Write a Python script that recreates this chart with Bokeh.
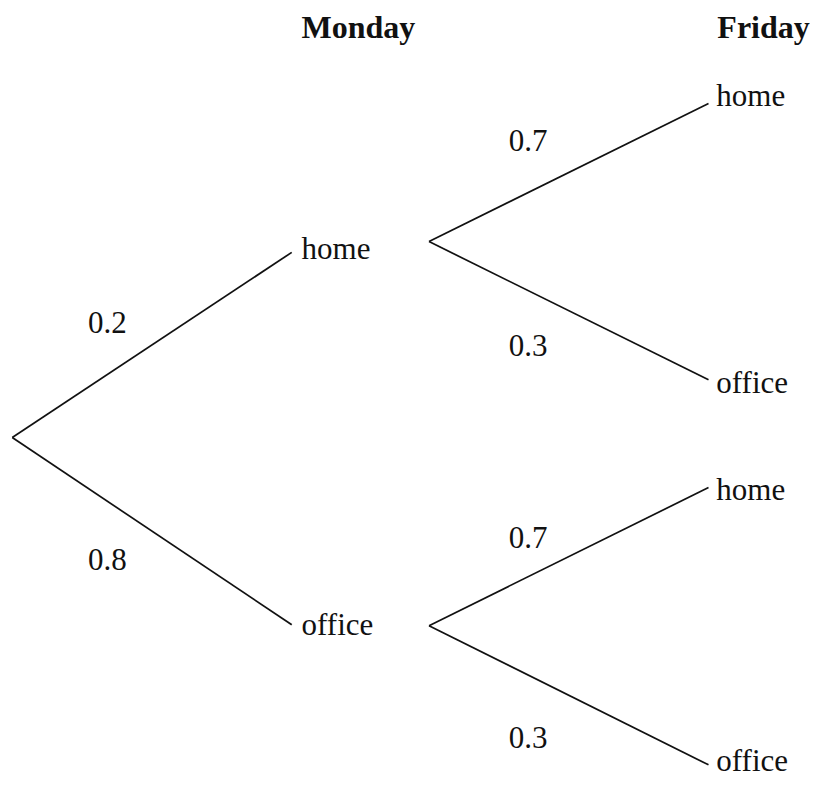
from bokeh.plotting import figure
from bokeh.models import Range1d
from bokeh.core.properties import value
from bokeh.embed import file_html
from bokeh.resources import INLINE

# ---------------- data ----------------
stages = ["Monday", "Friday"]
monday_outcomes = ["home", "office"]
monday_probs = ["0.2", "0.8"]
friday_outcomes = ["home", "office"]
friday_probs = [["0.7", "0.3"],   # given Monday = home
                ["0.7", "0.3"]]   # given Monday = office

# ---------------- layout (diagram units) ----------------
ROOT = (12, 446)
S1_END_X = 297
S1_END_Y = [257, 637]
S1_LABEL_X = 307
S1_LABEL_MID = [253, 637]
S2_START_X = 437
S2_START_Y = [246, 638]
S2_END_X = 722
S2_END_Y = [[105, 387], [497, 780]]
S2_LABEL_X = 730
S2_LABEL_MID = [[97, 390], [499, 776]]
P1_POS = [(109, 329), (109, 570)]
P2_POS = [[(538, 143), (538, 352)], [(538, 548), (538, 752)]]
HEADER_X = [307, 731]
HEADER_MID = 27

FONT = value("Liberation Serif")
FS = "31px"

p = figure(width=810, height=782, output_backend="svg", toolbar_location=None,
           x_range=Range1d(0, 826), y_range=Range1d(798, 0), min_border=0)
p.xaxis.visible = False
p.yaxis.visible = False
p.grid.visible = False
p.outline_line_color = None
p.background_fill_color = "white"
p.border_fill_color = "white"

# branches
x0, y0, x1, y1 = [], [], [], []
for i in range(len(monday_outcomes)):
    x0.append(ROOT[0]); y0.append(ROOT[1]); x1.append(S1_END_X); y1.append(S1_END_Y[i])
    for j in range(len(friday_outcomes)):
        x0.append(S2_START_X); y0.append(S2_START_Y[i])
        x1.append(S2_END_X); y1.append(S2_END_Y[i][j])
p.segment(x0=x0, y0=y0, x1=x1, y1=y1, line_color="#111111", line_width=1.7)

# outcome labels
lx, ly, lt = [], [], []
for i, o in enumerate(monday_outcomes):
    lx.append(S1_LABEL_X); ly.append(S1_LABEL_MID[i]); lt.append(o)
    for j, f in enumerate(friday_outcomes):
        lx.append(S2_LABEL_X); ly.append(S2_LABEL_MID[i][j]); lt.append(f)
p.text(x=lx, y=ly, text=lt, text_font=FONT, text_font_size=FS,
       text_color="#111111", text_baseline="middle", text_align="left")

# probability labels
px, py, pt = [], [], []
for i, pr in enumerate(monday_probs):
    px.append(P1_POS[i][0]); py.append(P1_POS[i][1]); pt.append(pr)
    for j, pr2 in enumerate(friday_probs[i]):
        px.append(P2_POS[i][j][0]); py.append(P2_POS[i][j][1]); pt.append(pr2)
p.text(x=px, y=py, text=pt, text_font=FONT, text_font_size=FS,
       text_color="#111111", text_baseline="middle", text_align="center")

# stage headers
p.text(x=HEADER_X, y=[HEADER_MID] * len(stages), text=stages, text_font=FONT,
       text_font_size="32px", text_font_style="bold", text_color="#111111",
       text_baseline="middle", text_align="left")

open("out.html", "w").write(file_html(p, INLINE))
